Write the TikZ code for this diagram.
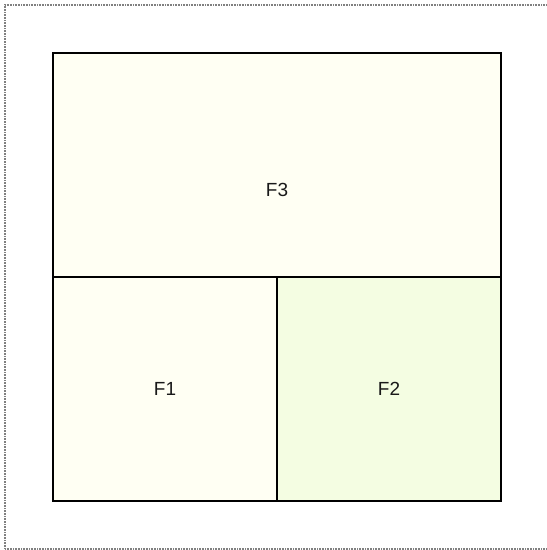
\documentclass[tikz,border=0pt]{standalone}
\usepackage{fontspec}
\setmainfont{Liberation Sans}
\begin{document}
\begin{tikzpicture}[x=1pt,y=-1pt,
  region/.style={draw=black,line width=2pt},
  lbl/.style={font=\fontsize{19}{22}\selectfont,text=black!90}]
\useasboundingbox (0,0) rectangle (547,550);
\draw[gray,line width=1.3pt,dash pattern=on 1pt off 0.6pt] (5,549) -- (5,5) -- (547,5);
\draw[gray,line width=1.3pt,dash pattern=on 1pt off 0.6pt] (5,549) -- (547,549);
\definecolor{ivory}{HTML}{FFFFF3}
\definecolor{lgreen}{HTML}{F4FDE2}
\fill[ivory] (53,53) rectangle (501,277);
\fill[ivory] (53,277) rectangle (277,501);
\fill[lgreen] (277,277) rectangle (501,501);
\draw[region] (53,53) rectangle (501,501);
\draw[region] (53,277) -- (501,277);
\draw[region] (277,277) -- (277,501);
\node[lbl] (f3) at (277,190) {F3};
\node[lbl] (f1) at (165,389) {F1};
\node[lbl] (f2) at (389,389) {F2};
\end{tikzpicture}
\end{document}
